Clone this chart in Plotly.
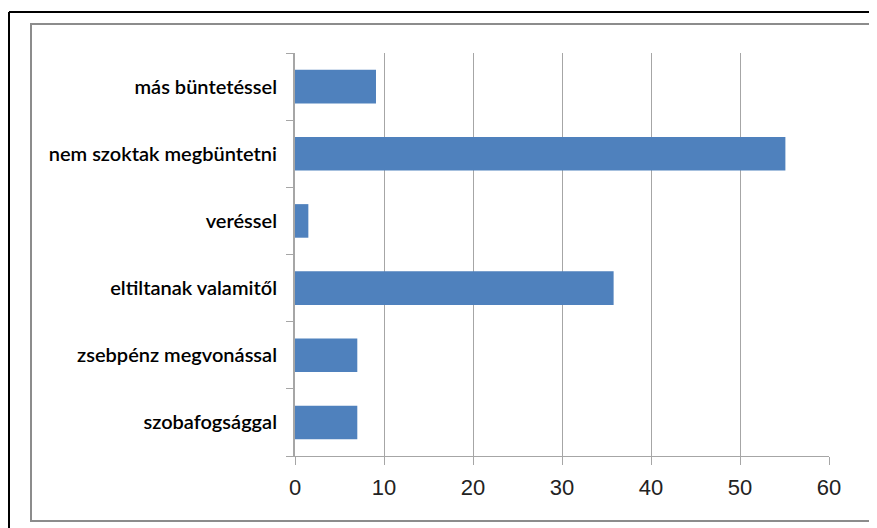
import plotly.graph_objects as go

# categories bottom to top, as drawn
categories = ["szobafogsággal", "zsebpénz megvonással", "eltiltanak valamitől",
              "veréssel", "nem szoktak megbüntetni", "más büntetéssel"]
values = [7, 7, 35.8, 1.5, 55.1, 9.1]
x_ticks = [0, 10, 20, 30, 40, 50, 60]

W, H = 877, 528
OFF = 8  # page body margin shifts the figure
L, R, T, B = 295 - OFF, 48 + OFF, 53 - OFF, 72 + OFF
pw, ph = W - L - R, H - T - B


def px(x):
    return (x - OFF - L) / pw


def py(y):
    return (H - B - (y - OFF)) / ph


fig = go.Figure()
fig.add_trace(go.Bar(
    x=values, y=categories, orientation="h",
    marker=dict(color="#4F81BD", line=dict(color="#4F81BD", width=0)),
))

# frames around the chart
fig.add_shape(type="rect", xref="paper", yref="paper",
              x0=px(31), x1=px(870), y0=py(521), y1=py(24),
              line=dict(color="#8c8c8c", width=2), layer="below")
fig.add_shape(type="line", xref="paper", yref="paper",
              x0=px(9), x1=px(9), y0=py(540), y1=py(12),
              line=dict(color="black", width=2))
fig.add_shape(type="line", xref="paper", yref="paper",
              x0=px(9), x1=px(890), y0=py(12), y1=py(12),
              line=dict(color="black", width=2))

fig.update_layout(
    width=W, height=H,
    margin=dict(l=L, r=R, t=T, b=B),
    paper_bgcolor="white", plot_bgcolor="white",
    showlegend=False,
    bargap=0.5,
    xaxis=dict(range=[0, 60], tickvals=x_ticks, showgrid=True,
               gridcolor="#a6a6a6", gridwidth=1,
               showline=True, linecolor="#a6a6a6", linewidth=1,
               ticks="outside", ticklen=8, tickcolor="#a6a6a6",
               ticklabelstandoff=4,
               tickfont=dict(family="Liberation Sans", size=22, color="#222"),
               zeroline=False, fixedrange=True),
    yaxis=dict(type="category", categoryorder="array", categoryarray=categories,
               showline=True, linecolor="#a6a6a6", linewidth=2,
               ticks="outside", ticklen=7, tickcolor="#a6a6a6",
               tickson="boundaries", showgrid=False, ticklabelstandoff=12,
               tickfont=dict(family="Lato", size=20, color="black", weight=600),
               fixedrange=True),
)

fig.write_html("out.html")
